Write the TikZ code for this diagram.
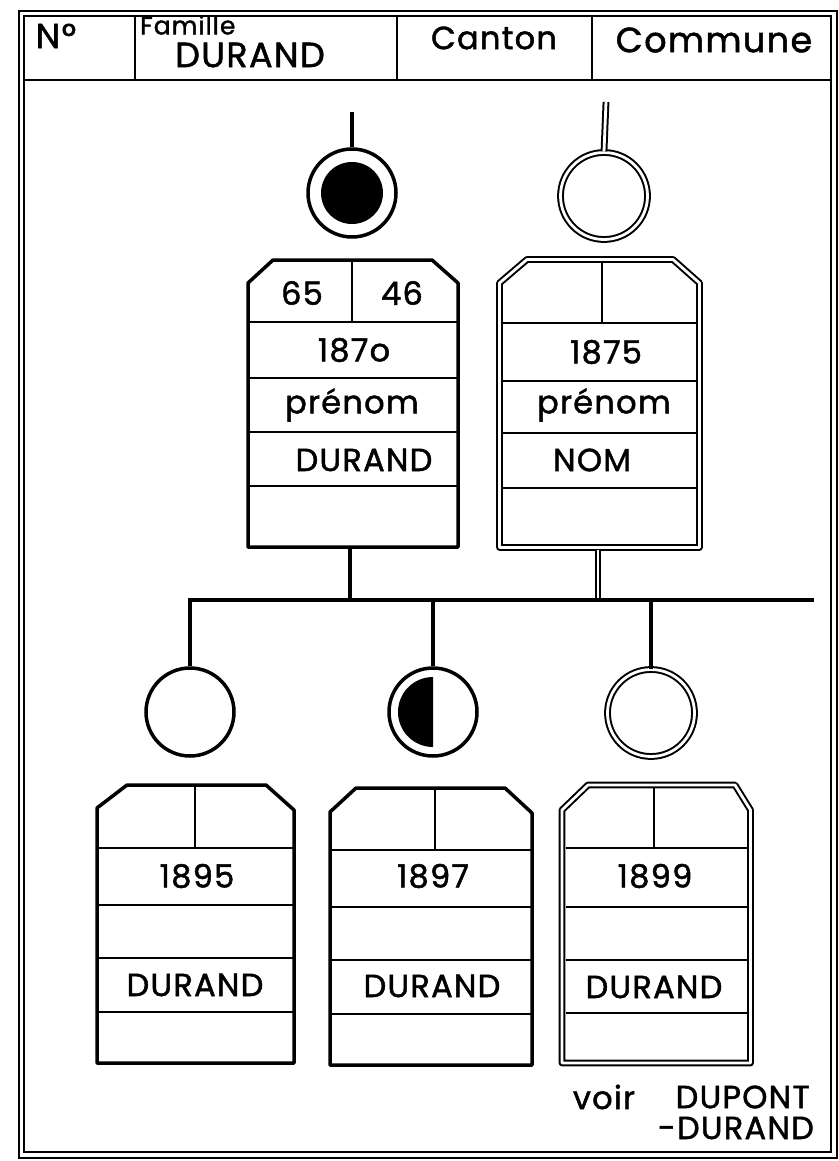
\documentclass[tikz,border=0pt]{standalone}
\usepackage{fontspec}
\setmainfont{Poppins}[LetterSpace=4, FakeBold=1.5]
\begin{document}
\begin{tikzpicture}[x=1pt,y=-1pt,
  txt/.style={inner sep=0pt, font=\fontsize{32}{34}\selectfont},
  bigtxt/.style={inner sep=0pt, font=\fontsize{35}{37}\selectfont},
  smalltxt/.style={inner sep=0pt, font=\fontsize{25}{27}\selectfont},
  ln/.style={line width=3.8pt},
  dblln/.style={double, double distance=2.8pt, line width=2pt},
  card/.style={line width=3.5pt, line join=round},
  dblcard/.style={double, double distance=2.8pt, line width=2pt, line join=round},
  row/.style={line width=2.8pt},
  dblrow/.style={line width=2.4pt},
  ring/.style={circle, draw, line width=3.5pt, inner sep=0pt, minimum size=88pt},
  dblring/.style={circle, draw, double, double distance=2.8pt, line width=2pt, inner sep=0pt, minimum size=87pt}
]
\useasboundingbox (0,0) rectangle (838,1161);
\fill[white] (0,0) rectangle (838,1161);

% frame and header
\draw[double, double distance=3.5pt, line width=2pt] (21.5,13.5) rectangle (834,1155);
\draw[line width=2.8pt] (25,80) -- (831,80);
\draw[line width=2.2pt] (135,17) -- (135,80);
\draw[line width=2.2pt] (397,17) -- (397,80);
\draw[line width=2.2pt] (592,17) -- (592,80);
\node[bigtxt] (hno) at (56,36) {N°};
\node[smalltxt, anchor=west] (hfam) at (140,25) {Famille};
\node[bigtxt] (hdur) at (250,55) {DURAND};
\node[txt] (hcan) at (494,38) {Canton};
\node[bigtxt] (hcom) at (714,40) {Commune};

% parents
\node[ring] (p1) at (352,193) {};
\fill (p1.center) circle (31pt);
\node[dblring] (p2) at (604,196) {};
\coordinate (stubL) at (352,112);
\coordinate (stubR) at (606,102);
\draw[ln] (stubL) -- (p1.north);
\draw[dblln] (stubR) -- (p2.north);

% parent card left
\draw[card] (248,547) -- (248,283) -- (273,260) -- (432,260) -- (458,283) -- (458,547) -- cycle;
\draw[row] (248,322) -- (458,322) (248,378) -- (458,378) (248,432) -- (458,432) (248,486) -- (458,486);
\draw[row] (352,260) -- (352,322);
\node[txt] (l65) at (302,293) {65};
\node[txt] (l46) at (402,293) {46};
\node[txt] (lyear) at (354,350) {187o};
\node[txt] (lpre) at (352,405) {prénom};
\node[txt] (lnom) at (364,460) {DURAND};

% parent card right
\draw[dblcard] (499.5,547.5) -- (499.5,283) -- (527,259.5) -- (673,259.5) -- (699.5,283) -- (699.5,547.5) -- cycle;
\draw[dblrow] (503,323) -- (696,323) (503,381) -- (696,381) (503,433) -- (696,433) (503,488) -- (696,488);
\draw[dblrow] (602,262) -- (602,323);
\node[txt] (ryear) at (606,352) {1875};
\node[txt] (rpre) at (604,405) {prénom};
\node[txt] (rnom) at (592,460) {NOM};

% links to bus
\coordinate (cardLb) at (350,547);
\coordinate (busL) at (350,600);
\coordinate (cardRb) at (598,550);
\coordinate (busR) at (598,600);
\draw[ln] (cardLb) -- (busL);
\draw[dblln] (cardRb) -- (busR);
\coordinate (busW) at (190,600);
\coordinate (busE) at (812,600);
\draw[ln, line cap=rect] (busW) -- (busE);

% children
\node[ring] (c1) at (190,712) {};
\node[ring] (c2) at (433,712) {};
\fill (c2.center) ++(0,-35) arc (90:270:35pt) -- cycle;
\node[dblring] (c3) at (651,713) {};
\coordinate (bus2) at (433,600);
\coordinate (bus3) at (651,600);
\draw[ln] (busW) -- (c1.north);
\draw[ln] (bus2) -- (c2.north);
\draw[ln] (bus3) -- (c3.north);

% child card 1
\draw[card] (97,1063) -- (97,808) -- (127,785) -- (266,785) -- (294,810) -- (294,1063) -- cycle;
\draw[row] (97,848) -- (294,848) (97,905) -- (294,905) (97,958) -- (294,958) (97,1012) -- (294,1012);
\draw[row] (195,785) -- (195,848);
\node[txt] (k1year) at (197,876) {1895};
\node[txt] (k1nom) at (195,985) {DURAND};

% child card 2
\draw[card] (330,1065) -- (330,812) -- (356,788) -- (505,788) -- (532,813) -- (532,1065) -- cycle;
\draw[row] (330,850) -- (532,850) (330,907) -- (532,907) (330,960) -- (532,960) (330,1014) -- (532,1014);
\draw[row] (435,788) -- (435,850);
\node[txt] (k2year) at (433,876) {1897};
\node[txt] (k2nom) at (432,986) {DURAND};

% child card 3
\draw[dblcard] (562,1063) -- (562,810) -- (588,785) -- (735,785) -- (750.5,810) -- (750.5,1063) -- cycle;
\draw[dblrow] (565.5,848) -- (747,848) (565.5,907) -- (747,907) (565.5,960) -- (747,960) (565.5,1013) -- (747,1013);
\draw[dblrow] (654,788) -- (654,848);
\node[txt] (k3year) at (655,876) {1899};
\node[txt] (k3nom) at (654,987) {DURAND};

% note
\node[txt] (voir) at (604,1097) {voir};
\node[txt, anchor=east] (vdup) at (810,1097) {DUPONT};
\node[txt, anchor=east] (vdur) at (814,1128) {-DURAND};
\end{tikzpicture}
\end{document}
